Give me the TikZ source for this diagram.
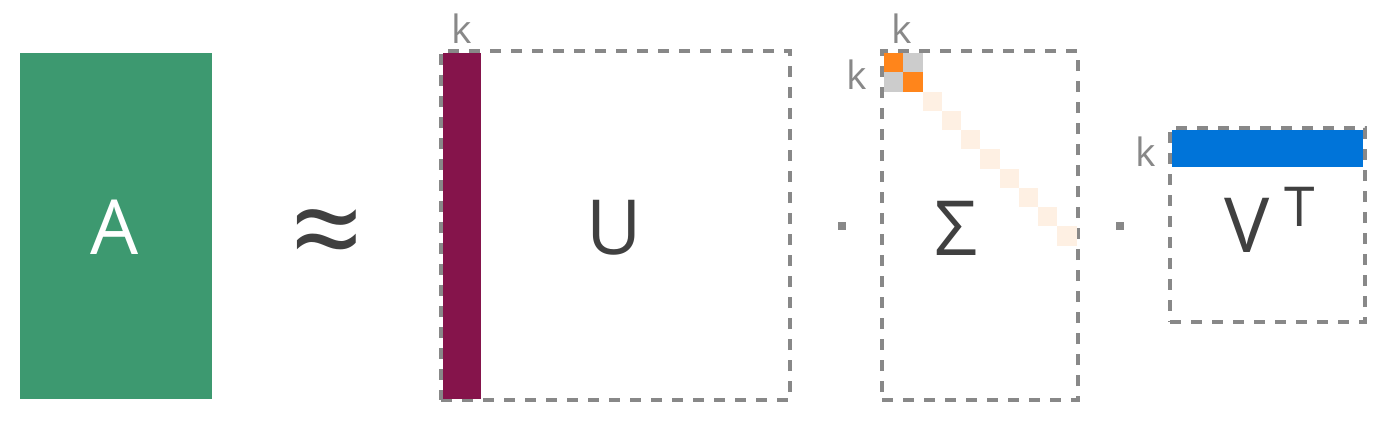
\documentclass[tikz,border=0pt]{standalone}
\usepackage{fontspec}
\setmainfont{Open Sans}
\usetikzlibrary{positioning}

\definecolor{agreen}{HTML}{3D9970}
\definecolor{umaroon}{HTML}{85144B}
\definecolor{vblue}{HTML}{0074D9}
\definecolor{sorange}{HTML}{FF851B}
\definecolor{sgrey}{HTML}{CCCCCC}
\definecolor{speach}{HTML}{FEF0E3}
\definecolor{dashgrey}{HTML}{888888}
\definecolor{txt}{HTML}{404040}

\begin{document}
\begin{tikzpicture}[x=1pt,y=-1pt,
	block/.style={inner sep=0, outer sep=0, minimum width=#1},
	frame/.style={draw=dashgrey, line width=3.5pt, dash pattern=on 11pt off 10pt, inner sep=0, outer sep=0},
	big/.style={anchor=base, inner sep=0, text=txt, font=\fontsize{76}{80}\selectfont},
	klab/.style={anchor=base, inner sep=0, text=dashgrey, font=\fontsize{39}{42}\selectfont},
	cell/.style={inner sep=0, outer sep=0, minimum size=19.25pt},
	dotbox/.style={fill=dashgrey, inner sep=0, minimum size=8pt}]
	\useasboundingbox (0,0) rectangle (1390,431);
	
	% A
	\node[block=192pt, minimum height=346pt, fill=agreen] (A) at (116,226) {};
	\node[big, text=white] (Atxt) at (115,254) {A};
	
	\node[anchor=center, inner sep=0, text=txt, font=\fontsize{124}{124}\selectfont] (approx) at (327,242) {≈};
	
	% U
	\node[frame, minimum width=349pt, minimum height=349pt] (U) at (615.5,225.5) {};
	\node[block=38pt, minimum height=346pt, fill=umaroon] (ucol) at (462,226) {};
	\node[big] (Utxt) at (614,254) {U};
	\node[klab] (kU) at (462,43) {k};
	
	\node[dotbox] (dot1) at (841.5,226) {};
	
	% Sigma
	\node[frame, minimum width=196pt, minimum height=349pt] (S) at (980,225.5) {};
	\node[cell, fill=sorange, anchor=north west] (s0) at (884,53) {};
	\node[cell, fill=sgrey, right=0pt of s0] (s01) {};
	\node[cell, fill=sgrey, below=0pt of s0] (s10) {};
	\node[cell, fill=sorange, below=0pt of s01] (s1) {};
	\foreach \i [remember=\i as \j (initially 1)] in {2,...,9}
		\node[cell, fill=speach, anchor=north west] (s\i) at (s\j.south east) {};
	\node[big] (Stxt) at (956,255) {Σ};
	\node[klab] (kS1) at (902,43) {k};
	\node[klab] (kS2) at (857,89) {k};
	
	\node[dotbox] (dot2) at (1120,226) {};
	
	% V^T
	\node[frame, minimum width=195pt, minimum height=194pt] (V) at (1267.5,225) {};
	\node[block=191pt, minimum height=37pt, fill=vblue] (vrow) at (1267.5,148.5) {};
	\node[big] (Vtxt) at (1247,252) {V};
	\node[big, font=\fontsize{55}{58}\selectfont] (Ttxt) at (1300,226) {T};
	\node[klab] (kV) at (1146,166) {k};
\end{tikzpicture}
\end{document}
